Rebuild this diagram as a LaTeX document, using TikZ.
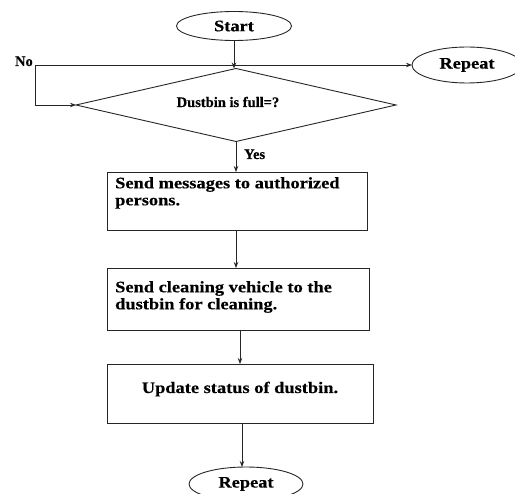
\documentclass[tikz,border=0pt]{standalone}
\usepackage{fontspec}
\setmainfont{Liberation Serif}
\newfontfamily\wideserif[FakeStretch=1.15,FakeBold=0.4]{Liberation Serif}
\newfontfamily\heavyserif[FakeBold=0.4]{Liberation Serif}
\usetikzlibrary{shapes.geometric,arrows.meta}

\begin{document}
\begin{tikzpicture}[x=1pt,y=-1pt,
  line/.style={draw=black!85, line width=0.9pt},
  arr/.style={line, -{Stealth[length=6pt,width=4.5pt]}},
  bigtext/.style={font=\wideserif\fontsize{16}{17}\selectfont\bfseries},
  smalltext/.style={font=\heavyserif\fontsize{14.5}{17}\selectfont\bfseries},
  term/.style={ellipse, line, inner sep=0pt, outer sep=0pt, bigtext},
  stepbox/.style={rectangle, line, inner sep=0pt, outer sep=0pt},
  decision/.style={diamond, line, inner sep=0pt, outer sep=0pt},
  boxtext/.style={bigtext, inner sep=0pt, align=left},
]
\useasboundingbox (0,0) rectangle (515,494);

% terminals
\node[term, minimum width=115pt, minimum height=29pt] (start) at (234,26) {Start};
\node[term, minimum width=110pt, minimum height=36pt] (rep1) at (467,65) {Repeat};
\node[term, minimum width=114pt, minimum height=34pt] (rep2) at (246,484) {Repeat};

% decision
\node[decision, minimum width=320pt, minimum height=73pt] (dec) at (236,105) {};
\node[smalltext, inner sep=0pt, anchor=base] (dectext) at (228,107) {Dustbin is full=?};

% process boxes
\node[stepbox, minimum width=260pt, minimum height=58pt] (box1) at (237,201) {};
\node[boxtext, anchor=north west] (box1text) at (115,177) {Send messages to authorized\\persons.};

\node[stepbox, minimum width=262pt, minimum height=62pt] (box2) at (238,299) {};
\node[boxtext, anchor=north west] (box2text) at (115,281) {Send cleaning vehicle to the\\dustbin for cleaning.};

\node[stepbox, minimum width=266pt, minimum height=59pt] (box3) at (240,393.5) {};
\node[bigtext, inner sep=0pt, anchor=base] (box3text) at (240,393) {Update status of dustbin.};

% labels
\node[smalltext, inner sep=0pt, anchor=base east] (nolabel) at (33,66) {No};
\node[smalltext, inner sep=0pt, anchor=base west] (yeslabel) at (244,159) {Yes};

% connectors
\coordinate (nocorner) at (35,65);
\draw[arr] (start.south) -- (start.south |- dec.north);
\draw[arr] (nocorner) -- (rep1.west);
\draw[arr] (nocorner) |- (dec.west);
\draw[arr] (dec.south) -- (dec.south |- box1.north);
\draw[arr] (box1.south -| dec.south) -- (dec.south |- box2.north);
\draw[arr] (box2.south -| box3.north) -- (box3.north);
\draw[arr] (box3.south -| 242,0) -- (242,0 |- rep2.north);
\end{tikzpicture}
\end{document}
